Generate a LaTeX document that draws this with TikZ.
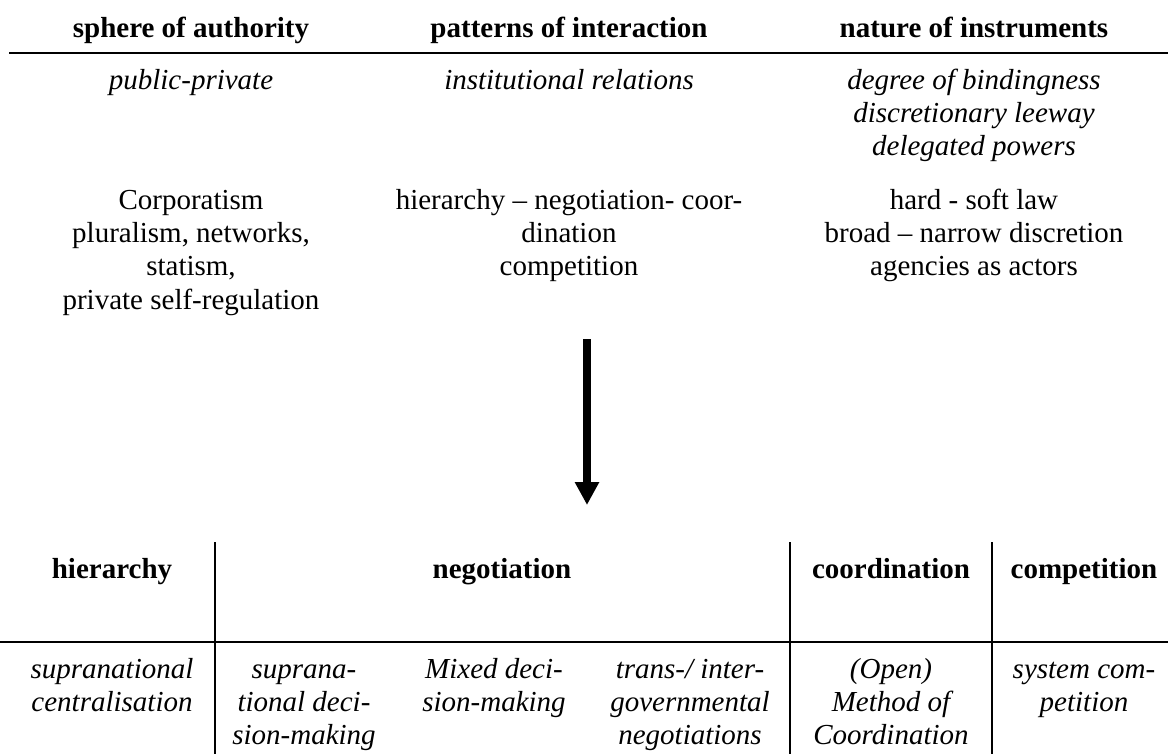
\documentclass[tikz,border=0pt]{standalone}
\usepackage{fontspec}
\setmainfont{Liberation Serif}
\usetikzlibrary{arrows.meta}
\begin{document}
\begin{tikzpicture}[x=1pt,y=-1pt,
  txt/.style={align=center, inner sep=0pt, anchor=north, font=\fontsize{29}{33.4}\selectfont},
  hdr/.style={txt, font=\fontsize{29}{33.4}\selectfont\bfseries},
  itx/.style={txt, font=\fontsize{29}{33.4}\selectfont\itshape},
  headrule/.style={line width=2.5pt},
  tabline/.style={line width=1.8pt},
  bigarrow/.style={line width=8pt, -{Triangle[width=23pt,length=23pt]}}]
\useasboundingbox (0,0) rectangle (1168,754);
% top section
\node[hdr] (h1) at (191,13.6) {\strut sphere of authority};
\node[hdr] (h2) at (569,13.6) {\strut patterns of interaction};
\node[hdr] (h3) at (974,13.6) {\strut nature of instruments};
\draw[headrule] (9,53) -- (1168,53);
\node[itx] (i1) at (191,65.6) {\strut public-private};
\node[itx] (i2) at (569,65.6) {\strut institutional relations};
\node[itx] (i3) at (974,65.6) {\strut degree of bindingness\\discretionary leeway\\delegated powers};
\node[txt] (r1) at (191,185.6) {\strut Corporatism\\pluralism, networks,\\statism,\\private self-regulation};
\node[txt] (r2) at (569,185.6) {\strut hierarchy – negotiation- coor-\\dination\\competition};
\node[txt] (r3) at (974,185.6) {\strut hard - soft law\\broad – narrow discretion\\agencies as actors};
% arrow
\coordinate (atop) at (587,339);
\coordinate (atip) at (587,505);
\draw[bigarrow] (atop) -- (atip);
% bottom table
\draw[tabline] (0,642) -- (1168,642);
\draw[tabline] (215,542) -- (215,754);
\draw[tabline] (790,542) -- (790,754);
\draw[tabline] (992,542) -- (992,754);
\node[hdr] (c1) at (112,554.6) {\strut hierarchy};
\node[hdr] (c2) at (502,554.6) {\strut negotiation};
\node[hdr] (c3) at (891,554.6) {\strut coordination};
\node[hdr] (c4) at (1084,554.6) {\strut competition};
\node[itx] (d1) at (112,654.6) {\strut supranational\\centralisation};
\node[itx] (d2) at (304,654.6) {\strut suprana-\\tional deci-\\sion-making};
\node[itx] (d3) at (494,654.6) {\strut Mixed deci-\\sion-making};
\node[itx] (d4) at (690,654.6) {\strut trans-/ inter-\\governmental\\negotiations};
\node[itx] (d5) at (891,654.6) {\strut (Open)\\Method of\\Coordination};
\node[itx] (d6) at (1084,654.6) {\strut system com-\\petition};
\end{tikzpicture}
\end{document}
